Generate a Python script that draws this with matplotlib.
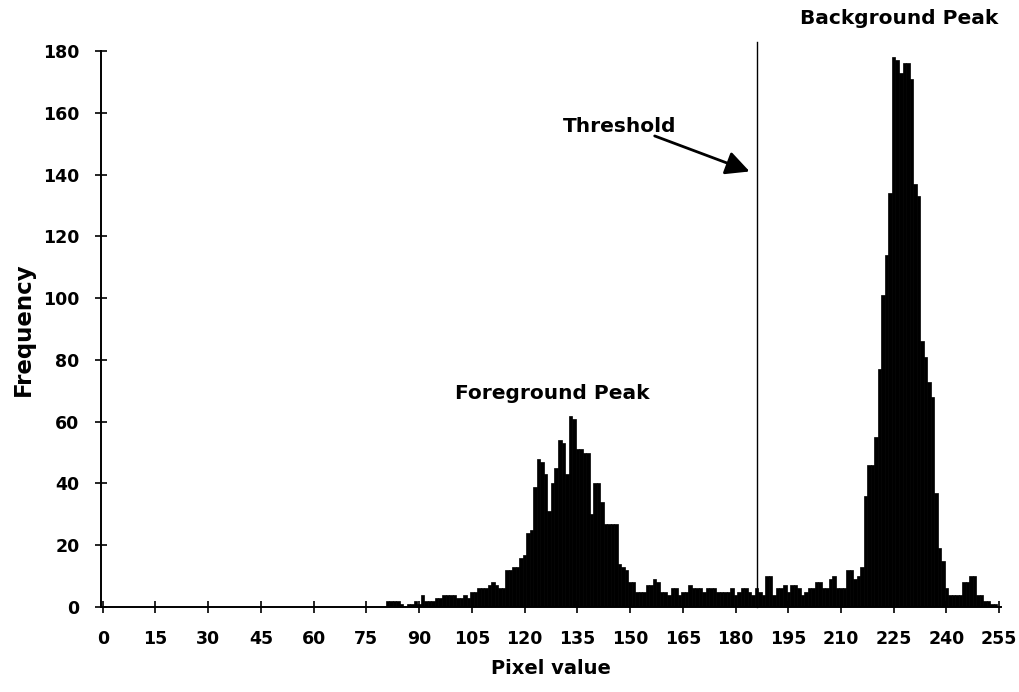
import matplotlib
matplotlib.use("Agg")
import matplotlib.pyplot as plt
import numpy as np

# histogram counts, pixel values 0..255
pixel_values = np.arange(256)
counts = np.zeros(256)
counts[81:256] = [
    2, 2, 2, 2, 1, 0, 1, 1, 2, 1,            # 81-90
    4, 2, 2, 2, 3, 3, 4, 4, 4, 4,            # 91-100
    3, 3, 4, 3, 5, 5, 6, 6, 6, 7,            # 101-110
    8, 7, 6, 6, 12, 12, 13, 13, 16, 17,      # 111-120
    24, 25, 39, 48, 47, 43, 31, 40, 45, 54,  # 121-130
    53, 43, 62, 61, 51, 51, 50, 50, 30, 40,  # 131-140
    40, 34, 27, 27, 27, 27, 14, 13, 12, 8,   # 141-150
    8, 5, 5, 5, 7, 7, 9, 8, 5, 5,            # 151-160
    4, 6, 6, 4, 5, 5, 7, 6, 6, 6,            # 161-170
    5, 6, 6, 6, 5, 5, 5, 5, 6, 4,            # 171-180
    5, 6, 6, 5, 4, 6, 5, 4, 10, 10,          # 181-190
    4, 6, 6, 7, 5, 7, 7, 6, 4, 5,            # 191-200
    6, 6, 8, 8, 6, 6, 9, 10, 6, 6,           # 201-210
    6, 12, 12, 9, 10, 13, 36, 46, 46, 55,    # 211-220
    77, 101, 114, 134, 178, 177, 173, 176, 176, 171,  # 221-230
    137, 133, 86, 81, 73, 68, 37, 19, 15, 6,  # 231-240
    4, 4, 4, 4, 8, 8, 10, 10, 4, 4,          # 241-250
    2, 2, 1, 1, 0,                           # 251-255
]

x_ticks = list(range(0, 241, 15)) + [255]
y_ticks = list(range(0, 181, 20))
threshold = 186

fig = plt.figure(figsize=(10.19, 6.92), dpi=100)
ax = fig.add_axes([0.0991, 0.1228, 0.8832, 0.8035])

ax.bar(pixel_values, counts, width=1.0, color="black", edgecolor="black", linewidth=0.5)

ax.set_xlim(-0.5, 255.5)
ax.set_ylim(0, 180)
ax.set_xticks(x_ticks)
ax.set_yticks(y_ticks)
for s in ["top", "right"]:
    ax.spines[s].set_visible(False)
ax.spines["left"].set_linewidth(1.4)
ax.spines["bottom"].set_linewidth(1.4)
ax.tick_params(axis="both", direction="inout", length=9, width=1.2, labelsize=12.5)
ax.tick_params(axis="y", pad=11)
ax.tick_params(axis="x", pad=12)
for lab in ax.get_xticklabels() + ax.get_yticklabels():
    lab.set_fontweight("heavy")

ax.set_xlabel("Pixel value", fontsize=14, fontweight="heavy", labelpad=8)
ax.set_ylabel("Frequency", fontsize=16.5, fontweight="heavy", labelpad=6)

# threshold marker and labels
ax.plot([threshold, threshold], [0, 183], color="black", lw=1.0, clip_on=False)
ax.text(147, 155.5, "Threshold", fontsize=14.5, fontweight="bold",
        ha="center", va="center")
ax.annotate("", xy=(184, 141), xytext=(157, 152.5),
            arrowprops=dict(arrowstyle="-|>", color="black", lw=2.0,
                            mutation_scale=36, shrinkA=0, shrinkB=0))
ax.text(128, 69, "Foreground Peak", fontsize=14.5, fontweight="bold",
        ha="center", va="center")
ax.text(226.5, 190.5, "Background Peak", fontsize=14.5, fontweight="bold",
        ha="center", va="center", clip_on=False)

fig.savefig("out.png", dpi=100)
